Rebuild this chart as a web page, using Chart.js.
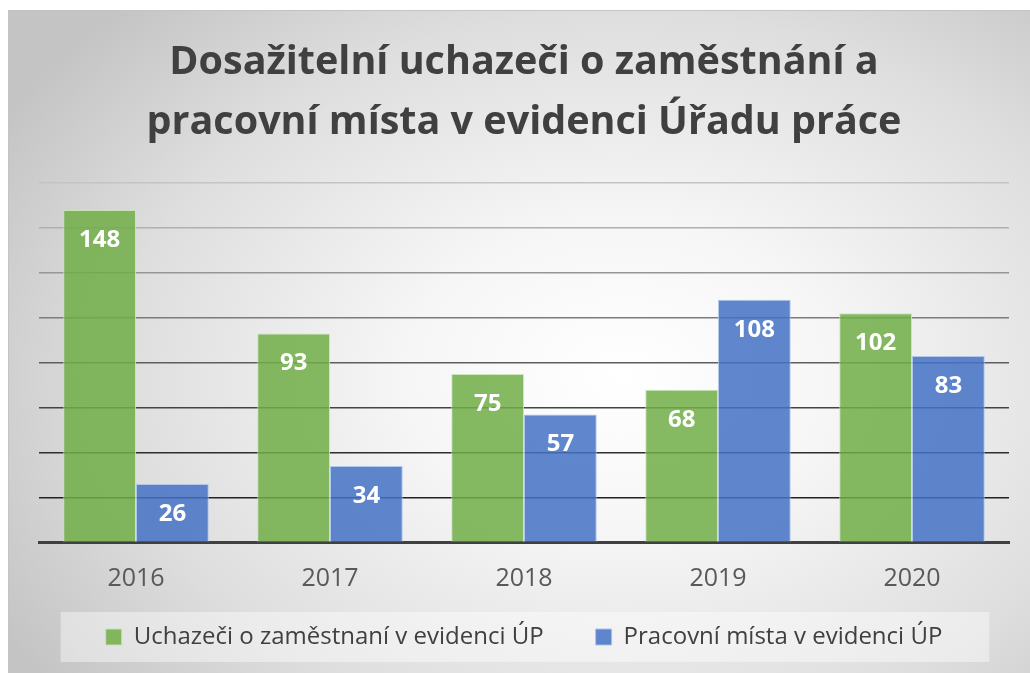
<!DOCTYPE html>
<html>
<head>
<meta charset="utf-8">
<script src="https://cdn.jsdelivr.net/npm/chart.js@4.4.1/dist/chart.umd.min.js"></script>
<style>
  html, body { margin: 0; padding: 0; background: #ffffff; width: 1030px; height: 673px; overflow: hidden; }
  #frame {
    position: absolute; left: 8px; top: 10px; width: 1022px; height: 663px;
    border-top: 1px solid #c4c4c4; border-left: 1px solid #c4c4c4;
    background: radial-gradient(ellipse 70% 78% at 60% 55%, #ffffff 0%, #f6f6f6 30%, #dedede 70%, #c4c4c4 100%);
  }
  #c { display: block; }
</style>
</head>
<body>
<div id="frame"><canvas id="c" width="1021" height="662"></canvas></div>
<script>
const titleLines = ["Dosažitelní uchazeči o zaměstnání a", "pracovní místa v evidenci Úřadu práce"];
const categories = ["2016", "2017", "2018", "2019", "2020"];
const seriesNames = ["Uchazeči o zaměstnaní v evidenci ÚP", "Pracovní místa v evidenci ÚP"];
const applicants = [148, 93, 75, 68, 102];
const vacancies = [26, 34, 57, 108, 83];
const yMin = 0, yMax = 160, yStep = 20;

const FONT = "'Open Sans', 'Noto Sans', sans-serif";

const gridColors = { 160: '#c4c4c4', 140: '#b0b0b0', 120: '#969696', 100: '#7c7c7c', 80: '#5e5e5e', 60: '#444444', 40: '#2e2e2e', 20: '#222222', 0: 'rgba(0,0,0,0)' };

const valueLabels = {
  id: 'valueLabels',
  afterDatasetsDraw(chart) {
    const ctx = chart.ctx;
    ctx.save();
    ctx.font = "bold 24px " + FONT;
    ctx.fillStyle = '#ffffff';
    ctx.textAlign = 'center';
    ctx.textBaseline = 'middle';
    chart.data.datasets.forEach((ds, di) => {
      const meta = chart.getDatasetMeta(di);
      meta.data.forEach((bar, i) => {
        ctx.fillText(String(ds.data[i]), bar.x, bar.y + 30);
      });
    });
    ctx.restore();
  }
};

// let the category labels overflow the (deliberately short) x-axis box
const labelRoom = {
  id: 'labelRoom',
  afterLayout(chart) {
    const xs = chart.scales.x;
    if (xs) xs.bottom = xs.top + 80;
  }
};

const legendBackground = {
  id: 'legendBackground',
  beforeDraw(chart) {
    const lg = chart.legend;
    if (!lg || !lg.legendHitBoxes || !lg.legendHitBoxes.length) return;
    const boxes = lg.legendHitBoxes;
    let l = Infinity, r = -Infinity, t = Infinity, b = -Infinity;
    boxes.forEach(h => { l = Math.min(l, h.left); r = Math.max(r, h.left + h.width); t = Math.min(t, h.top); b = Math.max(b, h.top + h.height); });
    const ctx = chart.ctx;
    ctx.save();
    ctx.fillStyle = 'rgba(255,255,255,0.42)';
    const cy = (t + b) / 2;
    ctx.fillRect(l - 45, cy - 25, (r - l) + 92, 50);
    ctx.restore();
  }
};

new Chart(document.getElementById('c'), {
  type: 'bar',
  data: {
    labels: categories,
    datasets: [
      { label: seriesNames[0], data: applicants, backgroundColor: 'rgba(112,173,71,0.85)', borderColor: 'rgba(200,228,180,0.9)', borderWidth: 1 },
      { label: seriesNames[1], data: vacancies, backgroundColor: 'rgba(68,114,196,0.85)', borderColor: 'rgba(170,195,235,0.9)', borderWidth: 1 }
    ]
  },
  options: {
    responsive: false,
    animation: false,
    devicePixelRatio: 1,
    layout: { padding: { left: 30, right: 21, top: 0, bottom: 14 } },
    datasets: { bar: { categoryPercentage: 0.75, barPercentage: 1.0 } },
    scales: {
      x: {
        grid: { display: false, drawTicks: false },
        border: { display: true, color: '#404040', width: 3 },
        ticks: { color: '#595959', font: { family: FONT, size: 25, lineHeight: 1.2 }, padding: 21 },
        afterFit: (scale) => { scale.height = 30.5; }
      },
      y: {
        min: yMin, max: yMax,
        ticks: { display: false, stepSize: yStep },
        border: { display: false },
        grid: {
          drawTicks: false,
          lineWidth: 1.5,
          color: (c) => (c.tick && gridColors[c.tick.value] !== undefined) ? gridColors[c.tick.value] : '#888888'
        }
      }
    },
    plugins: {
      title: {
        display: true,
        text: titleLines,
        color: '#404040',
        font: { family: FONT, size: 39.5, weight: 'bold', lineHeight: 60 / 39.5 },
        padding: { top: 22, bottom: 30 }
      },
      legend: {
        position: 'bottom',
        labels: {
          color: '#404040',
          font: { family: FONT, size: 24 },
          boxWidth: 16, boxHeight: 16,
          padding: 52
        }
      },
      tooltip: { enabled: false }
    }
  },
  plugins: [valueLabels, labelRoom, legendBackground]
});
</script>
</body>
</html>
